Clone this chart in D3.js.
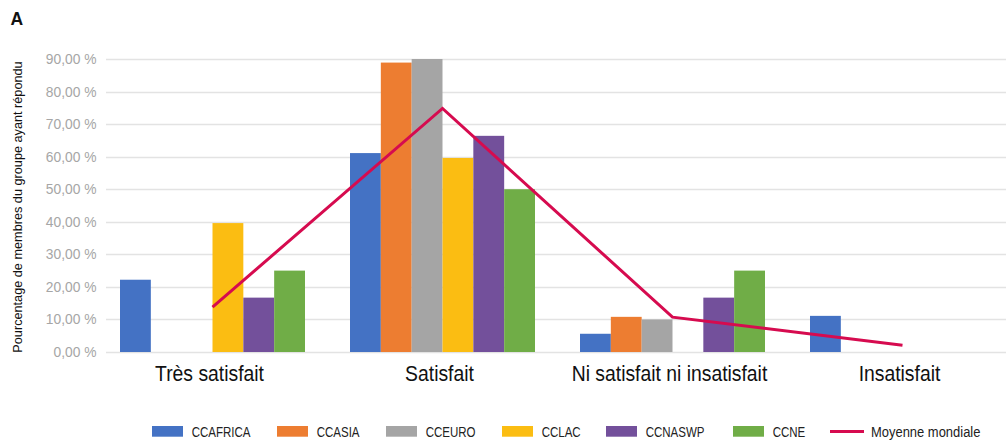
<!DOCTYPE html>
<html>
<head>
<meta charset="utf-8">
<script src="https://cdn.jsdelivr.net/npm/d3@7"></script>
<style>
  html, body { margin: 0; padding: 0; background: #fff; }
  svg { display: block; }
  text { font-family: "Liberation Sans", Arial, sans-serif; }
</style>
</head>
<body>
<svg id="chart" width="1006" height="444"></svg>
<script>
// ---- data ----
const categories = ["Très satisfait", "Satisfait", "Ni satisfait ni insatisfait", "Insatisfait"];
const seriesNames = ["CCAFRICA", "CCASIA", "CCEURO", "CCLAC", "CCNASWP", "CCNE"];
const CCAFRICA = [22.2, 61.1, 5.6, 11.1];
const CCASIA   = [0, 88.9, 10.8, 0];
const CCEURO   = [0, 90.0, 10.0, 0];
const CCLAC    = [39.6, 59.6, 0, 0];
const CCNASWP  = [16.7, 66.4, 16.7, 0];
const CCNE     = [25.0, 50.0, 25.0, 0];
const moyenneMondiale = [13.8, 74.8, 10.7, 2.1];
const lineName = "Moyenne mondiale";
const yTicks = [0, 10, 20, 30, 40, 50, 60, 70, 80, 90];
const yTitle = "Pourcentage de membres du groupe ayant répondu";
const panelLabel = "A";

const seriesValues = [CCAFRICA, CCASIA, CCEURO, CCLAC, CCNASWP, CCNE];
const colors = ["#4472C4", "#ED7D31", "#A5A5A5", "#FBBD12", "#73509B", "#70AD47"];
const lineColor = "#D60B4F";

// ---- layout ----
const svg = d3.select("#chart");
const gridX0 = 106, gridX1 = 1006;
const y = d3.scaleLinear().domain([0, 90]).range([352, 59]);
const x0 = d3.scaleBand().domain(categories).range([97.5, 1017.5]).padding(0);
const x1 = d3.scaleBand().domain(seriesNames).range([22.5, x0.bandwidth() - 22.5]).padding(0);

// gridlines
svg.append("g").selectAll("line").data(yTicks).join("line")
  .attr("x1", gridX0).attr("x2", gridX1)
  .attr("y1", d => Math.round(y(d)) + 0.5).attr("y2", d => Math.round(y(d)) + 0.5)
  .attr("stroke", "#E3E3E3").attr("stroke-width", 1.3);

// y tick labels
svg.append("g").selectAll("text").data(yTicks).join("text")
  .attr("x", 96.5).attr("y", d => y(d)).attr("dy", "0.36em")
  .attr("text-anchor", "end")
  .attr("fill", "#A6A6A6").attr("font-size", 13.8)
  .text(d => d.toFixed(2).replace(".", ",") + " %");

// y title
svg.append("text")
  .attr("transform", "translate(21.5,207) rotate(-90)")
  .attr("text-anchor", "middle").attr("font-size", 12.7).attr("fill", "#111")
  .text(yTitle);

// panel label
svg.append("text").attr("x", 10.5).attr("y", 25).attr("font-size", 17.5)
  .attr("font-weight", "bold").attr("fill", "#111").text(panelLabel);

// bars
const barData = [];
seriesNames.forEach((s, si) => {
  categories.forEach((c, ci) => {
    barData.push({ s, c, v: seriesValues[si][ci], color: colors[si] });
  });
});
svg.append("g").selectAll("rect").data(barData.filter(d => d.v > 0)).join("rect")
  .attr("x", d => x0(d.c) + x1(d.s))
  .attr("width", x1.bandwidth())
  .attr("y", d => y(d.v))
  .attr("height", d => y(0) - y(d.v))
  .attr("fill", d => d.color);

// line
const lineGen = d3.line()
  .x((d, i) => x0(categories[i]) + x0.bandwidth() / 2)
  .y(d => y(d));
svg.append("path").datum(moyenneMondiale)
  .attr("d", lineGen).attr("fill", "none")
  .attr("stroke", lineColor).attr("stroke-width", 3)
  .attr("stroke-linejoin", "miter");

// category labels (condensed look via horizontal scale)
svg.append("g").selectAll("text").data(categories).join("text")
  .attr("transform", d => `translate(${x0(d) + x0.bandwidth() / 2 - 3},381) scale(0.9,1)`)
  .attr("text-anchor", "middle").attr("font-size", 21.5).attr("fill", "#111")
  .text(d => d);

// legend
const legendX = [152, 277, 386, 502, 606, 733];
const lg = svg.append("g");
seriesNames.forEach((s, i) => {
  lg.append("rect").attr("x", legendX[i]).attr("y", 426).attr("width", 31).attr("height", 10.7)
    .attr("fill", colors[i]);
  lg.append("text")
    .attr("transform", `translate(${legendX[i] + 39.7},436.5) scale(0.8,1)`)
    .attr("font-size", 14.4).attr("fill", "#222").text(s);
});
lg.append("line").attr("x1", 830).attr("x2", 864).attr("y1", 431.5).attr("y2", 431.5)
  .attr("stroke", lineColor).attr("stroke-width", 3);
lg.append("text")
  .attr("transform", `translate(871,436.5) scale(0.9,1)`)
  .attr("font-size", 14.4).attr("fill", "#222").text(lineName);
</script>
</body>
</html>
